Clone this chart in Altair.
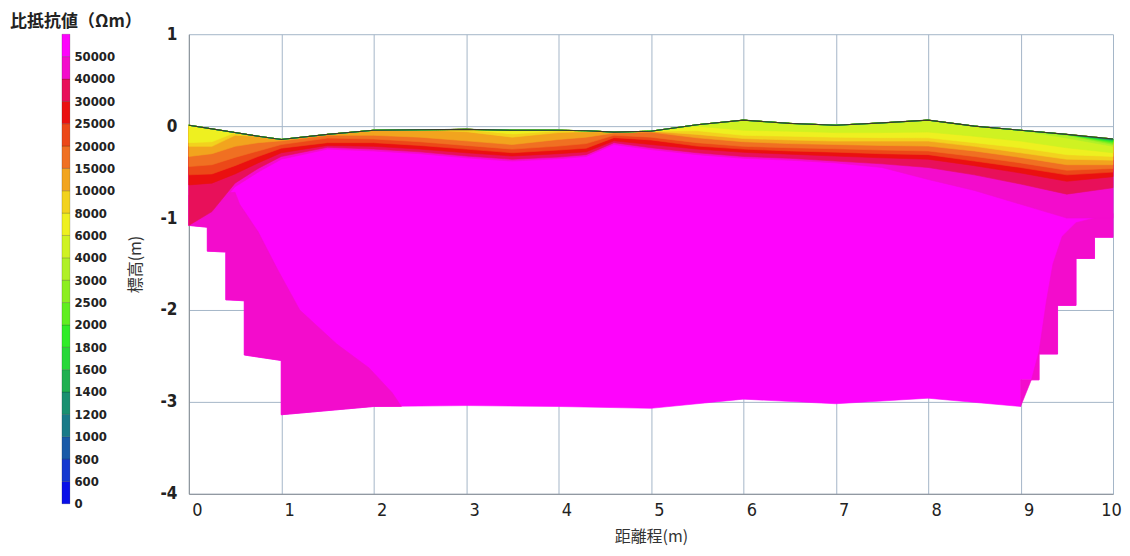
import json
import pandas as pd
import altair as alt

# ---------------- colour bar ----------------
CB_LABELS = ["0", "600", "800", "1000", "1200", "1400", "1600", "1800", "2000", "2500",
             "3000", "4000", "6000", "8000", "10000", "15000", "20000", "25000", "30000",
             "40000", "50000"]
CB_COLORS = ["#0a10e8", "#1438d0", "#1a5aa8", "#1a7a88", "#1a9070", "#20b050", "#28d838",
             "#30ec28", "#60ee20", "#8cee20", "#b0f028", "#cff222", "#eef020", "#f2d21e",
             "#f2a41e", "#f07022", "#ec4818", "#ea1010", "#e8105a", "#f30ccc", "#fe04fc"]

# ---------------- section geometry ----------------
XN = [0, 0.25, 0.5, 0.75, 1.0, 1.5, 2.0, 2.5, 3.0, 3.5, 4.0, 4.3, 4.6, 5.0, 5.5, 6.0,
      6.5, 7.0, 7.5, 8.0, 8.5, 9.0, 9.5, 10.0]
SURF = [0.01, -0.03, -0.07, -0.11, -0.145, -0.09, -0.045, -0.04, -0.035, -0.045, -0.045,
        -0.05, -0.065, -0.055, 0.015, 0.065, 0.03, 0.01, 0.035, 0.065, 0.0, -0.045, -0.09, -0.14]

BOTTOM_X = [10.0, 9.8, 9.8, 9.6, 9.6, 9.4, 9.4, 9.2, 9.2, 9.0, 9.0, 8.0, 7.0, 6.0, 5.0, 4.0,
            3.0, 2.0, 1.0, 1.0, 0.6, 0.6, 0.4, 0.4, 0.2, 0.2, 0.0]
BOTTOM_Y = [-1.21, -1.21, -1.44, -1.44, -1.95, -1.95, -2.48, -2.48, -2.76, -2.76, -3.05, -2.96,
            -3.02, -2.97, -3.07, -3.05, -3.04, -3.05, -3.14, -2.55, -2.49, -1.90, -1.89, -1.37,
            -1.36, -1.10, -1.08]

LEFT_WEDGE_X = [0, 0.5, 0.55, 0.75, 0.95, 1.2, 1.6, 1.95, 2.2, 2.3, 2.0, 1.0, 1.0, 0.6, 0.6,
                0.4, 0.4, 0.2, 0.2, 0]
LEFT_WEDGE_Y = [-0.75, -0.72, -0.85, -1.15, -1.54, -2.0, -2.37, -2.63, -2.9, -3.05, -3.05,
                -3.14, -2.55, -2.49, -1.9, -1.89, -1.37, -1.36, -1.1, -1.08]
RIGHT_WEDGE_X = [9.0, 9.12, 9.2, 9.28, 9.35, 9.45, 9.6, 10.0, 10.0, 9.8, 9.8, 9.6, 9.6, 9.4,
                 9.4, 9.2, 9.2, 9.0]
RIGHT_WEDGE_Y = [-3.05, -2.75, -2.45, -1.9, -1.5, -1.2, -1.05, -0.95, -1.21, -1.21, -1.44,
                 -1.44, -1.95, -1.95, -2.48, -2.48, -2.76, -2.76]

N = None
# elevation of the lower edge of each colour band (None = band absent there)
U50 = [-1.08, -0.95, -0.66, -0.5, -0.36, -0.25, -0.27, -0.3, -0.345, -0.38, -0.355, -0.33,
       -0.2, -0.255, -0.31, -0.35, -0.37, -0.4, -0.45, -0.58, -0.7, -0.85, -1.0, -1.0]
U40 = [-1.08, -0.93, -0.62, -0.46, -0.33, -0.23, -0.25, -0.28, -0.325, -0.36, -0.337, -0.31,
       -0.18, -0.235, -0.29, -0.33, -0.35, -0.38, -0.41, -0.45, -0.53, -0.63, -0.74, -0.67]
U30 = [-0.64, -0.62, -0.52, -0.4, -0.29, -0.21, -0.22, -0.25, -0.29, -0.325, -0.3, -0.28,
       -0.16, -0.2, -0.25, -0.285, -0.305, -0.326, -0.345, -0.36, -0.43, -0.51, -0.6, -0.55]
U25 = [-0.53, -0.52, -0.43, -0.33, -0.24, -0.18, -0.18, -0.21, -0.25, -0.29, -0.26, -0.24,
       -0.125, -0.15, -0.217, -0.25, -0.27, -0.283, -0.3, -0.31, -0.38, -0.45, -0.53, -0.5]
U20 = [-0.44, -0.42, -0.34, -0.27, -0.2, -0.13, -0.14, -0.17, -0.21, -0.25, -0.217, -0.19,
       -0.1, -0.12, -0.18, -0.22, -0.235, -0.246, -0.26, -0.27, -0.33, -0.4, -0.48, -0.46]
U15 = [-0.33, -0.3, -0.22, -0.18, -0.16, -0.1, -0.1, -0.12, -0.16, -0.2, -0.145, -0.12,
       -0.075, -0.065, -0.127, -0.17, -0.19, -0.2, -0.21, -0.217, -0.27, -0.34, -0.42, -0.42]
U10 = [-0.22, -0.22, -0.1, N, N, N, N, N, -0.06, -0.12, -0.07, -0.06, N, N, -0.09, -0.135,
       -0.15, -0.163, -0.163, -0.163, -0.22, -0.29, -0.36, -0.37]
U8 = [-0.18, -0.17, N, N, N, N, N, N, N, -0.085, -0.05, N, N, N, -0.05, -0.1, -0.11, -0.12,
      -0.125, -0.127, -0.18, -0.236, -0.31, -0.33]
U6 = [N] * 14 + [0.0, -0.045, -0.055, -0.07, -0.07, -0.065, -0.11, -0.163, -0.236, -0.29]
U4 = [N] * 22 + [-0.13, -0.22]
U3 = [N] * 22 + [-0.1, -0.2]
U2 = [N] * 23 + [-0.185]
U18 = [N] * 23 + [-0.172]
U16 = [N] * 23 + [-0.162]
U12 = [N] * 23 + [-0.152]

# band lower edge -> colour-bar bin index (painted deepest first)
BANDS = [(U50, 19), (U40, 18), (U30, 17), (U25, 16), (U20, 15), (U15, 14), (U10, 13),
         (U8, 12), (U6, 11), (U4, 10), (U3, 9), (U2, 8), (U18, 7), (U16, 6), (U12, 4)]

# ---------------- build polygon table ----------------
rows = []


def add_poly(name, xs, ys):
    for k, (xx, yy) in enumerate(zip(xs, ys)):
        rows.append({"poly": name, "k": k, "x": xx, "y": yy})


add_poly("base", XN + BOTTOM_X, SURF + BOTTOM_Y)
add_poly("wedgeL", LEFT_WEDGE_X, LEFT_WEDGE_Y)
add_poly("wedgeR", RIGHT_WEDGE_X, RIGHT_WEDGE_Y)
poly_colors = [("base", CB_COLORS[20]), ("wedgeL", CB_COLORS[19]), ("wedgeR", CB_COLORS[19])]
for j, (low, b) in enumerate(BANDS):
    lows = [s if v is None else v for s, v in zip(SURF, low)]
    name = f"band{j}"
    add_poly(name, XN + XN[::-1], SURF + lows[::-1])
    poly_colors.append((name, CB_COLORS[b]))

df = pd.DataFrame(rows)
surf_df = pd.DataFrame({"x": XN, "y": SURF})

NUM_FONT = "Liberation Sans Narrow, DejaVu Sans Condensed, Liberation Sans, sans-serif"
JP_FONT = "Noto Sans CJK JP"
GRID = "#a5b6c8"

xenc = alt.X("x:Q", scale=alt.Scale(domain=[0, 10], nice=False, zero=False),
             axis=alt.Axis(values=list(range(11)), labelExpr="datum.value + ''",
                           title="距離程(m)", grid=True,
                           gridColor=GRID, gridOpacity=1, domainColor="#8a8f96", ticks=False,
                           labelPadding=8, labelFontSize=18, labelFont=NUM_FONT,
                           labelColor="#222", labelFlush=False,
                           labelOffset={"condition": {"test": "datum.value == 10", "value": -2},
                                        "value": 8},
                           titleFont=JP_FONT, titleFontSize=16,
                           titleFontWeight="normal", titleColor="#333", titlePadding=9))
yenc = alt.Y("y:Q", scale=alt.Scale(domain=[-4, 1], nice=False, zero=False),
             axis=alt.Axis(values=[-4, -3, -2, -1, 0, 1], labelExpr="datum.value + ''",
                           title="標高(m)", labelFlush=False,
                           grid=True, gridColor=GRID, gridOpacity=1, domainColor="#8a8f96",
                           ticks=False, labelPadding=12, labelFontSize=17, labelFont=NUM_FONT,
                           labelFontWeight="bold", labelColor="#222", titleFont=JP_FONT,
                           titleFontSize=16, titleFontWeight="normal", titleColor="#333",
                           titlePadding=16))

layers = []
for name, col in poly_colors:
    layers.append(
        alt.Chart(df).transform_filter(alt.datum.poly == name)
        .mark_line(filled=True, fill=col, stroke=col, strokeWidth=0.6, interpolate="linear-closed")
        .encode(x=xenc, y=yenc, order=alt.Order("k:Q"))
    )
layers.append(
    alt.Chart(surf_df).mark_line(color="#3c3c28", strokeWidth=1.1)
    .encode(x=xenc, y=yenc)
)
main = alt.layer(*layers).properties(width=925, height=460)

cb_df = pd.DataFrame({"i": list(range(21)), "i2": list(range(1, 22)), "c": CB_COLORS})
label_expr = json.dumps(CB_LABELS) + "[datum.value]"
cbar = alt.Chart(cb_df).mark_rect(stroke="#000", strokeOpacity=0.22, strokeWidth=0.8).encode(
    y=alt.Y("i:Q", scale=alt.Scale(domain=[0, 21], nice=False, zero=False),
            axis=alt.Axis(orient="right", values=list(range(21)), labelExpr=label_expr,
                          ticks=False, domain=False, grid=False, title=None, labelPadding=4,
                          labelFontSize=13, labelFont=NUM_FONT, labelFontWeight="bold",
                          labelColor="#222", labelBaseline="middle")),
    y2="i2:Q",
    color=alt.Color("c:N", scale=None),
).properties(width=8, height=470,
             title=alt.TitleParams("比抵抗値（Ωm）", font=JP_FONT, fontSize=17,
                                   fontWeight="bold", color="#222", anchor="middle",
                                   dx=10, offset=3))

chart = (alt.hconcat(cbar, main, spacing=-14)
         .properties(padding={"top": 4, "left": 2, "right": 0, "bottom": 3})
         .configure_view(stroke=None))
chart.save("out.html", embed_options={"renderer": "svg", "actions": False})
